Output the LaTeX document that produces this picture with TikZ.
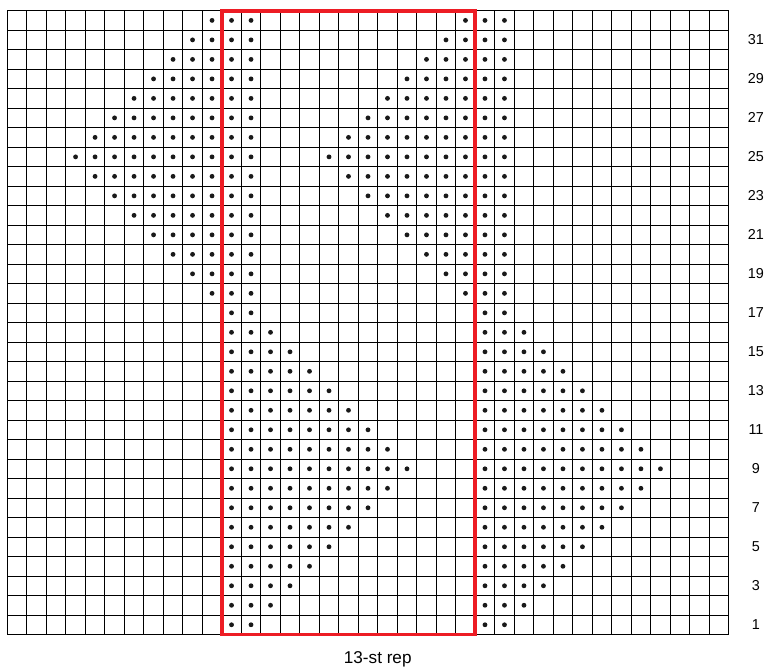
\documentclass[tikz,border=0pt]{standalone}
\usepackage{fontspec}
\setmainfont{Liberation Sans}
\definecolor{repred}{RGB}{237,28,36}

\begin{document}
\begin{tikzpicture}[x=0.5cm,y=0.5cm,font=\fontsize{10.5}{12}\selectfont,
  grille/.style={line width=0.65pt,black,step=0.5cm},
  cadre/.style={draw=repred,line width=2.8pt},
  pt/.style={fill=black!90}]
  \useasboundingbox (-0.376,-1.796) rectangle (39.069,32.547);
  % grille
  \draw[grille] (0,0) grid (37,32);
  % points : deux bandes, d\'ecal\'ees de 13 mailles
  \foreach \b in {0,13}{
    \foreach \r in {1,...,32}
      \fill[pt] (11.5+\b,\r-0.5) circle (0.062cm) (12.5+\b,\r-0.5) circle (0.062cm);
    % losange du haut (vers la gauche)
    \foreach \r in {18,...,32}{
      \pgfmathtruncatemacro\m{4+abs(\r-25)}
      \foreach \c in {\m,...,11}
        \fill[pt] (\c-0.5+\b,\r-0.5) circle (0.062cm);
    }
    % losange du bas (vers la droite)
    \foreach \r in {2,...,16}{
      \pgfmathtruncatemacro\M{21-abs(\r-9)}
      \foreach \c in {14,...,\M}
        \fill[pt] (\c-0.5+\b,\r-0.5) circle (0.062cm);
    }
  }
  % r\'ep\'etition
  \draw[cadre] (11,0) rectangle (24,32);
  \node[anchor=base,font=\fontsize{12.5}{15}\selectfont] (rep) at (19,-1.47) {13-st rep};
  % rangs
  \foreach \r in {1,3,...,31}
    \node (rang\r) at (38.4,\r-0.5) {\r};
\end{tikzpicture}
\end{document}
